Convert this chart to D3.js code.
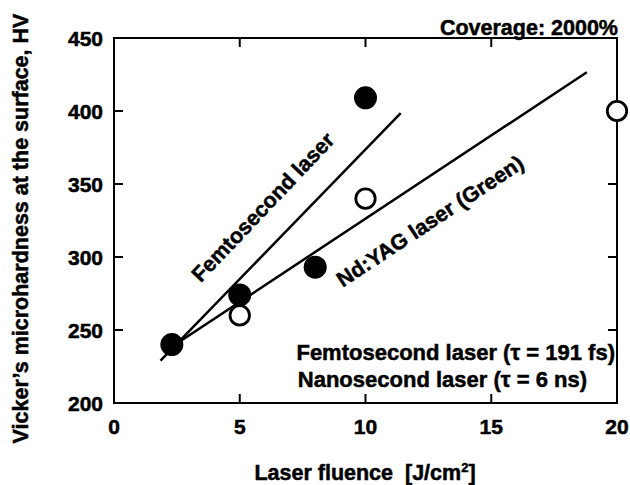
<!DOCTYPE html>
<html>
<head>
<meta charset="utf-8">
<script src="https://cdn.jsdelivr.net/npm/d3@7"></script>
<style>
  body { margin: 0; background: #fff; }
  text { font-family: 'Liberation Sans', Arial, sans-serif; font-weight: bold; fill: #000; stroke: #000; stroke-width: 0.5px; }
</style>
</head>
<body>
<div id="chart"></div>
<script>
// fluence [J/cm2] / hardness [HV]
const femtoFluence = [2.3, 5, 8, 10]
const femtoHardness = [240, 274, 293, 409]
const nanoFluence = [5, 10, 20]
const nanoHardness = [260, 340, 400]

// fitted lines, end points
const femtoFitX = [1.85, 11.4]
const femtoFitY = [229, 398.5]
const nanoFitX = [2.3, 18.8]
const nanoFitY = [238.5, 426.5]

const xTicks = [0, 5, 10, 15, 20]
const yTicks = [200, 250, 300, 350, 400, 450]

const width = 630, height = 485
const margin = { top: 38, right: 13, bottom: 82, left: 114 }
const plotW = width - margin.left - margin.right
const plotH = height - margin.top - margin.bottom

const svg = d3.select('#chart').append('svg')
  .attr('width', width).attr('height', height)

const x = d3.scaleLinear().domain([0, 20]).range([0, plotW])
const y = d3.scaleLinear().domain([200, 450]).range([plotH, 0])

const g = svg.append('g').attr('transform', `translate(${margin.left},${margin.top})`)

/** 刻度（内向） */
const inner = xTicks.slice(1, -1)
const innerY = yTicks.slice(1, -1)
const tickLen = 9
const ticks = g.append('g').attr('stroke', '#000').attr('stroke-width', 2)
inner.forEach(v => {
  ticks.append('line').attr('x1', x(v)).attr('x2', x(v)).attr('y1', plotH).attr('y2', plotH - tickLen)
  ticks.append('line').attr('x1', x(v)).attr('x2', x(v)).attr('y1', 0).attr('y2', tickLen)
})
innerY.forEach(v => {
  ticks.append('line').attr('x1', 0).attr('x2', tickLen).attr('y1', y(v)).attr('y2', y(v))
  ticks.append('line').attr('x1', plotW).attr('x2', plotW - tickLen).attr('y1', y(v)).attr('y2', y(v))
})

// 外框
g.append('rect')
  .attr('x', 0).attr('y', 0).attr('width', plotW).attr('height', plotH)
  .attr('fill', 'none').attr('stroke', '#000').attr('stroke-width', 2)

// tick labels
g.selectAll('.xlab').data(xTicks).enter().append('text')
  .attr('x', d => x(d)).attr('y', plotH + 31)
  .attr('text-anchor', 'middle').attr('font-size', 21)
  .text(d => d)
g.selectAll('.ylab').data(yTicks).enter().append('text')
  .attr('x', -11).attr('y', d => y(d) + 8)
  .attr('text-anchor', 'end').attr('font-size', 21)
  .text(d => d)

// fit lines
const line = d3.line().x(d => x(d[0])).y(d => y(d[1]))
g.append('path').datum(d3.zip(femtoFitX, femtoFitY))
  .attr('d', line).attr('fill', 'none').attr('stroke', '#000').attr('stroke-width', 2.5)
g.append('path').datum(d3.zip(nanoFitX, nanoFitY))
  .attr('d', line).attr('fill', 'none').attr('stroke', '#000').attr('stroke-width', 2.5)

// points
g.selectAll('.nano').data(d3.zip(nanoFluence, nanoHardness)).enter().append('circle')
  .attr('cx', d => x(d[0])).attr('cy', d => y(d[1])).attr('r', 9.7)
  .attr('fill', '#fff').attr('stroke', '#000').attr('stroke-width', 2.8)
g.selectAll('.femto').data(d3.zip(femtoFluence, femtoHardness)).enter().append('circle')
  .attr('cx', d => x(d[0])).attr('cy', d => y(d[1])).attr('r', 11.5)
  .attr('fill', '#000')

// line labels
g.append('text')
  .attr('transform', `translate(${x(3.45)},${y(282)}) rotate(-46.5)`)
  .attr('font-size', 21.5).text('Femtosecond laser')
g.append('text')
  .attr('transform', `translate(${x(9.1)},${y(279)}) rotate(-33.5)`)
  .attr('font-size', 21.5).text('Nd:YAG laser (Green)')

// legend text
g.append('text').attr('x', plotW - 2).attr('y', plotH - 43).attr('text-anchor', 'end')
  .attr('font-size', 22).text('Femtosecond laser (τ = 191 fs)')
g.append('text').attr('x', plotW - 30).attr('y', plotH - 16).attr('text-anchor', 'end')
  .attr('font-size', 22).text('Nanosecond laser (τ = 6 ns)')

// coverage
svg.append('text').attr('x', 618).attr('y', 35).attr('text-anchor', 'end')
  .attr('font-size', 21.5).text('Coverage: 2000%')

// axis titles
const xt = svg.append('text').attr('x', 365).attr('y', 480).attr('text-anchor', 'middle')
  .attr('font-size', 21.5)
xt.append('tspan').text('Laser fluence\u00a0\u00a0[J/cm')
xt.append('tspan').attr('font-size', 13).attr('dy', -8).text('2')
xt.append('tspan').attr('dy', 8).text(']')

svg.append('text')
  .attr('transform', `translate(28,${margin.top + plotH / 2 + 8}) rotate(-90)`)
  .attr('text-anchor', 'middle').attr('font-size', 21.5)
  .text('Vicker’s microhardness at the surface, HV')
</script>
</body>
</html>
